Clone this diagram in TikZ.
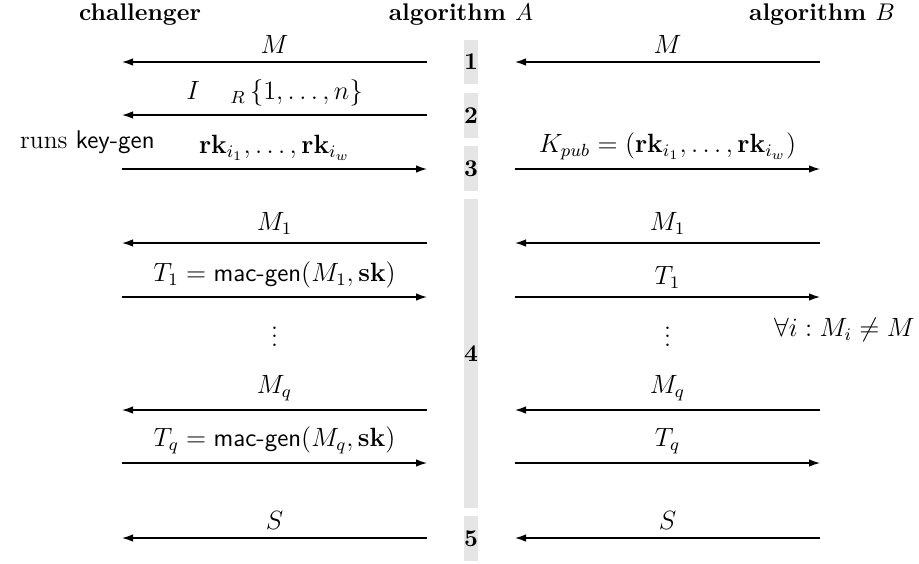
\documentclass[tikz,border=0pt,11pt]{standalone}
\usetikzlibrary{arrows.meta}
\begin{document}
\begin{tikzpicture}[x=0.4545pt,y=-0.4545pt,
  msg/.style={-{Latex[length=5pt,width=3.4pt]}, line width=0.6pt},
  lbl/.style={midway, above, font=\fontsize{11.6}{14}\selectfont},
  phase/.style={fill=black!10, minimum width=14*0.4545pt, inner sep=0pt, font=\bfseries},
  hdr/.style={anchor=base, font=\bfseries}]
\useasboundingbox (0,0) rectangle (919,563);
% headers
\node[hdr] (hc) at (140,20) {challenger};
\node[hdr] (ha) at (461,20) {algorithm $A$};
\node[hdr] (hb) at (822,20) {algorithm $B$};
% phase bars
\node[phase, minimum height=44*0.4545pt] (p1) at (471,62) {1};
\node[phase, minimum height=45*0.4545pt] (p2) at (471,115.5) {2};
\node[phase, minimum height=45*0.4545pt] (p3) at (471,168.5) {3};
\node[phase, minimum height=309*0.4545pt] (p4) at (471,353.5) {4};
\node[phase, minimum height=45*0.4545pt] (p5) at (471,538.5) {5};
% end points
\foreach \n/\y in {a/62,b/115,c/169,d/243,e/297,f/410,g/463,h/538}{
  \coordinate (L\n) at (122,\y);
  \coordinate (A\n) at (427,\y);
  \coordinate (R\n) at (515,\y);
  \coordinate (B\n) at (820,\y);
}
% left column
\draw[msg] (Aa) -- (La) node[lbl] {$M$};
\draw[msg] (Ab) -- (Lb) node[lbl] {$I\hspace{1.2em}{}_R\,\{1,\ldots,n\}$};
\draw[msg] (Lc) -- (Ac) node[lbl] {$\mathbf{rk}_{i_1},\ldots,\mathbf{rk}_{i_w}$};
\draw[msg] (Ad) -- (Ld) node[lbl] {$M_1$};
\draw[msg] (Le) -- (Ae) node[lbl] {$T_1=\textsf{mac-gen}(M_1,\mathbf{sk})$};
\draw[msg] (Af) -- (Lf) node[lbl] {$M_q$};
\draw[msg] (Lg) -- (Ag) node[lbl] {$T_q=\textsf{mac-gen}(M_q,\mathbf{sk})$};
\draw[msg] (Ah) -- (Lh) node[lbl] {$S$};
% right column
\draw[msg] (Ba) -- (Ra) node[lbl] {$M$};
\draw[msg] (Rc) -- (Bc) node[lbl] {$K_{pub}=(\mathbf{rk}_{i_1},\ldots,\mathbf{rk}_{i_w})$};
\draw[msg] (Bd) -- (Rd) node[lbl] {$M_1$};
\draw[msg] (Re) -- (Be) node[lbl] {$T_1$};
\draw[msg] (Bf) -- (Rf) node[lbl] {$M_q$};
\draw[msg] (Rg) -- (Bg) node[lbl] {$T_q$};
\draw[msg] (Bh) -- (Rh) node[lbl] {$S$};
% other texts
\node[anchor=base east, inner sep=0pt, font=\fontsize{11.6}{14}\selectfont] (kg) at (155,148) {runs \textsf{key-gen}};
\node[font=\fontsize{11.6}{14}\selectfont] (dl) at (274.5,330) {$\vdots$};
\node[font=\fontsize{11.6}{14}\selectfont] (dr) at (667.5,330) {$\vdots$};
\node[anchor=east, inner sep=0pt, font=\fontsize{11.6}{14}\selectfont] (cond) at (915,330) {$\forall i: M_i\neq M$};
\end{tikzpicture}
\end{document}
